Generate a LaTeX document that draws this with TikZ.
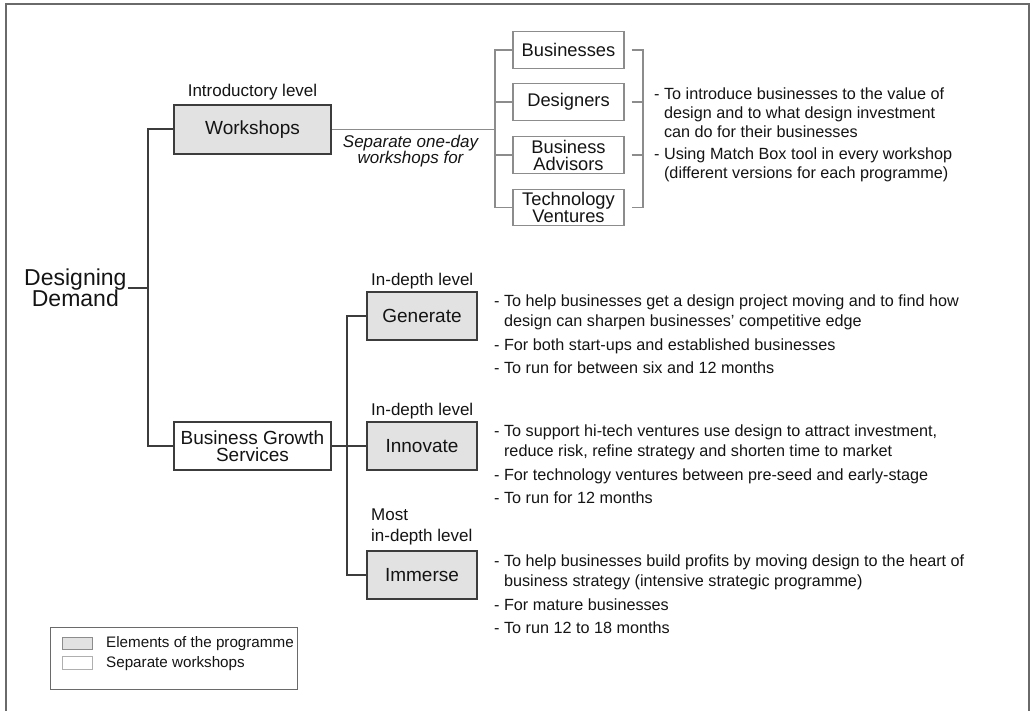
\documentclass[tikz,border=0pt]{standalone}
\usepackage{fontspec}
\setmainfont{Liberation Sans}
\usetikzlibrary{calc}
\definecolor{dk}{HTML}{3C3C3C}
\definecolor{lt}{HTML}{8C8C8C}
\definecolor{fillg}{HTML}{E2E2E2}
\definecolor{txt}{HTML}{141414}
\definecolor{frame}{HTML}{6A6A6A}
\newcommand\fsz[2]{\fontsize{#1}{#2}\selectfont\lineskiplimit=-50pt\relax}
\begin{document}
\begin{tikzpicture}[x=1pt,y=-1pt,
  every node/.style={text=txt, inner sep=0pt},
  prog/.style={draw=dk, line width=1.8pt, fill=fillg, minimum width=110pt,
    minimum height=48pt, font=\fsz{19}{17}, align=center},
  wbox/.style={draw=lt, line width=1.2pt, fill=white, minimum width=111pt,
    minimum height=36.7pt, font=\fsz{18.3}{17}, align=center},
  tree/.style={draw=dk, line width=2pt},
  brk/.style={draw=lt, line width=1.2pt},
  lbl/.style={font=\fsz{17}{21}},
  bul/.style={font=\fsz{16.2}{20.7}, align=left, anchor=north west},
  leg/.style={font=\fsz{15.2}{18}, anchor=west}]
\useasboundingbox (0,0) rectangle (1036,711);
% outer frame (bottom edge lies below the page)
\draw[draw=frame, line width=2pt] (5.7,716) -- (5.7,4) -- (1029.3,4) -- (1029.3,716);

% root
\node[font=\fsz{23}{21.5}, align=center, anchor=east, inner sep=1pt] (dd) at (127.7,288) {Designing\\Demand};

% level 1
\node[prog, minimum width=157pt, minimum height=49pt] (ws) at (252.5,129.5) {Workshops};
\node[prog, fill=white, minimum width=157pt, minimum height=48pt] (bgs) at (252.5,446) {Business Growth\\Services};
\node[lbl, anchor=base] (intro) at (252.5,96.8) {Introductory level};

% level 2 programme elements
\node[prog] (gen) at (422,316) {Generate};
\node[prog] (inn) at (422,446) {Innovate};
\node[prog] (imm) at (422,575) {Immerse};
\node[lbl, anchor=base west] (l1) at (371,286) {In-depth level};
\node[lbl, anchor=base west] (l2) at (371,415.4) {In-depth level};
\node[lbl, anchor=north west, align=left] (l3) at (371,508.8) {Most\\in-depth level};

% workshops
\node[wbox] (bus) at (568.5,50) {Businesses};
\node[wbox] (des) at (568.5,102) {Designers};
\node[wbox] (adv) at (568.5,155) {Business\\Advisors};
\node[wbox] (tec) at (568.5,207.5) {Technology\\Ventures};
\node[font=\fsz{17}{15.5}\itshape, align=center] (sep) at (410.5,151) {Separate one-day\\workshops for};

% connectors
\coordinate (s1) at (147.7,288);
\coordinate (s2) at (346.7,446);
\coordinate (b1) at (495,129.5);
\coordinate (b2) at (643,129.5);
\draw[tree] (ws.west) -| (s1) |- (bgs.west);
\draw[tree] (dd.east) -- (s1);
\draw[tree] (bgs.east) -- (inn.west);
\draw[tree] (gen.west) -| (s2) |- (imm.west);
\draw[brk] (ws.east) -- (b1);
\draw[brk] (bus.west) -| (b1) |- (tec.west);
\draw[brk] (des.west) -- (des.west -| b1);
\draw[brk] (adv.west) -- (adv.west -| b1);
\draw[brk] ($(bus.east)+(7,0)$) -| (b2) |- ($(tec.east)+(7,0)$);
\draw[brk] ($(des.east)+(7,0)$) -- (des.east -| b2);
\draw[brk] ($(adv.east)+(7,0)$) -- (adv.east -| b2);

% descriptions
\node[bul, font=\fsz{16.2}{19}] (wt) at (654,87.2) {- To introduce businesses to the value of\\
\phantom{- }design and to what design investment\\
\phantom{- }can do for their businesses\\[3pt]
- Using Match Box tool in every workshop\\
\phantom{- }(different versions for each programme)};
\node[bul] (gt) at (494,294.2) {- To help businesses get a design project moving and to find how\\
\phantom{- }design can sharpen businesses' competitive edge\\[2.5pt]
- For both start-ups and established businesses\\[2.5pt]
- To run for between six and 12 months};
\node[bul] (it) at (494,424.2) {- To support hi-tech ventures use design to attract investment,\\
\phantom{- }reduce risk, refine strategy and shorten time to market\\[2.5pt]
- For technology ventures between pre-seed and early-stage\\[2.5pt]
- To run for 12 months};
\node[bul] (mt) at (494,554.2) {- To help businesses build profits by moving design to the heart of\\
\phantom{- }business strategy (intensive strategic programme)\\[2.5pt]
- For mature businesses\\[2.5pt]
- To run 12 to 18 months};

% legend
\node[draw=frame, line width=1.3pt, minimum width=246.6pt, minimum height=61.6pt] (legbox) at (174,658.5) {};
\node[draw=lt, line width=1pt, fill=fillg, minimum width=30pt, minimum height=12.7pt] (sw1) at (77.3,643.6) {};
\node[draw=lt!70, line width=1pt, fill=white, minimum width=30pt, minimum height=13.3pt] (sw2) at (77.3,663.3) {};
\node[leg] (lt1) at (106,644) {Elements of the programme};
\node[leg] (lt2) at (106,664) {Separate workshops};
\end{tikzpicture}
\end{document}
